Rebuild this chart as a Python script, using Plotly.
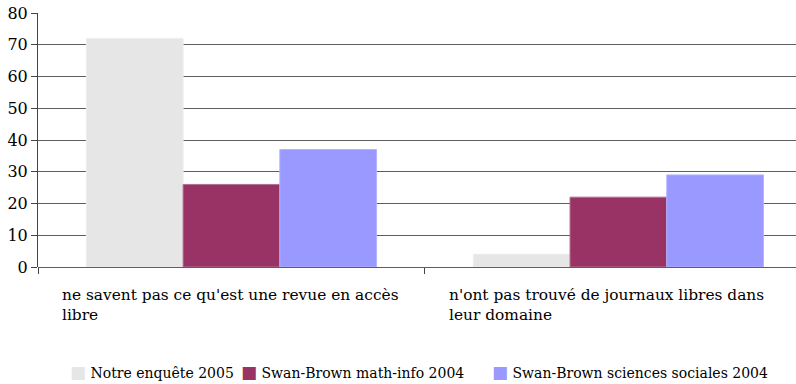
import plotly.graph_objects as go

categories = ["ne savent pas ce qu'est une revue en accès<br>libre",
              "n'ont pas trouvé de journaux libres dans<br>leur domaine"]
series_names = ["Notre enquête 2005", "Swan-Brown math-info 2004",
                "Swan-Brown sciences sociales 2004"]
notre_enquete = [72, 4]
math_info = [26, 22]
sciences_sociales = [37, 29]
y_ticks = [0, 10, 20, 30, 40, 50, 60, 70, 80]

colors = ["#E6E6E6", "#993366", "#9999FF"]
borders = ["#EDEDED", "#B2708F", "#B3B3FF"]
FONT = "DejaVu Serif"

keys = ["c0", "c1"]
fig = go.Figure()
for name, vals, col, bcol in zip(series_names,
                                 [notre_enquete, math_info, sciences_sociales],
                                 colors, borders):
    fig.add_trace(go.Bar(x=keys, y=vals, name=name, showlegend=False,
                         marker=dict(color=col, line=dict(color=bcol, width=1))))

# left-aligned, wrapped category labels under each group
for i, label in enumerate(categories):
    fig.add_annotation(x=i - 0.443, y=0, xref="x", yref="y", text=label,
                       showarrow=False, xanchor="left", yanchor="top", align="left",
                       yshift=-17, font=dict(family=FONT, size=15.4, color="#000"))

# compact legend row: coloured square + series name, laid out in paper units
legend_x = [0.0396, 0.2652, 0.5963]
for name, col, lx in zip(series_names, colors, legend_x):
    fig.add_annotation(
        x=lx, y=-0.413, xref="paper", yref="paper", showarrow=False,
        xanchor="left", yanchor="middle",
        text=f'<span style="color:{col};font-size:17px">■</span> {name}',
        font=dict(family=FONT, size=14, color="#000"))

fig.update_layout(
    width=796, height=384,
    margin=dict(l=38, r=0, t=13, b=117),
    paper_bgcolor="white", plot_bgcolor="white",
    barmode="group", bargap=0.25, bargroupgap=0,
    font=dict(family=FONT, size=15, color="#000"),
    xaxis=dict(type="category", range=[-0.5, 1.459], showticklabels=False,
               tickson="boundaries", ticks="outside", ticklen=6,
               tickcolor="#444", showgrid=False, zeroline=False, showline=False),
    yaxis=dict(range=[0, 80], tickvals=y_ticks, ticks="outside", ticklen=6,
               tickcolor="#444", showgrid=True, gridcolor="#5e5e5e", gridwidth=1,
               showline=True, linecolor="#444", linewidth=1,
               zeroline=True, zerolinecolor="#5e5e5e", zerolinewidth=1,
               tickfont=dict(family=FONT, size=16, color="#000")),
)

fig.write_html("out.html")
